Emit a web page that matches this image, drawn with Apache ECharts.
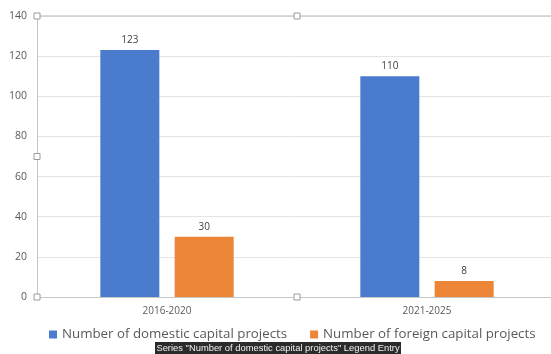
<!DOCTYPE html>
<html>
<head>
<meta charset="utf-8">
<script src="https://cdn.jsdelivr.net/npm/echarts@6/dist/echarts.min.js"></script>
<style>
  html, body { margin: 0; padding: 0; background: #fff; }
  #chart { width: 551px; height: 354px; }
</style>
</head>
<body>
<div id="chart"></div>
<script>
// Project counts by five-year plan period
const categories = ['2016-2020', '2021-2025'];
const domesticProjects = [123, 110];
const foreignProjects = [30, 8];
const seriesNames = ['Number of domestic capital projects', 'Number of foreign capital projects'];
const hoverNote = 'Series "Number of domestic capital projects" Legend Entry';

const GRID = { left: 37, top: 16, width: 520, bottom: 57, outerBoundsMode: 'none' };
const W = 551, H = 354;

const chart = echarts.init(document.getElementById('chart'), null, { renderer: 'canvas' });

// selection handles around the plot area
function handle(x, y) {
  return {
    type: 'rect', shape: { x: x - 3, y: y - 3, width: 6, height: 6 },
    style: { fill: '#fff', stroke: '#9a9a9a', lineWidth: 1 }, z: 10
  };
}
const plotBottom = H - GRID.bottom;
const midX = 297;
const midY = (GRID.top + plotBottom) / 2;

chart.setOption({
  animation: false,
  textStyle: { fontFamily: 'Open Sans, Liberation Sans, sans-serif' },
  grid: GRID,
  legend: {
    bottom: 8,
    left: 44,
    itemWidth: 8, itemHeight: 8, itemGap: 23,
    icon: 'rect',
    textStyle: { color: '#595959', fontSize: 13.3 },
    data: seriesNames
  },
  xAxis: {
    type: 'category',
    data: categories,
    axisTick: { show: false },
    axisLine: { lineStyle: { color: '#c6c6c6', width: 1 } },
    axisLabel: { color: '#595959', fontSize: 10, margin: 9 }
  },
  yAxis: {
    type: 'value',
    min: 0, max: 140, interval: 20,
    axisLine: { show: true, lineStyle: { color: '#c6c6c6' } },
    axisLabel: { color: '#595959', fontSize: 10.5, margin: 10 },
    splitLine: { lineStyle: { color: '#e4e4e4' } }
  },
  series: [
    {
      name: seriesNames[0], type: 'bar', data: domesticProjects,
      barWidth: 59, barGap: '26%',
      itemStyle: { color: '#4a7bcc' },
      label: { show: true, position: 'top', distance: 5, color: '#404040', fontSize: 10 }
    },
    {
      name: seriesNames[1], type: 'bar', data: foreignProjects,
      barWidth: 59,
      itemStyle: { color: '#ed8537' },
      label: { show: true, position: 'top', distance: 5, color: '#404040', fontSize: 10 }
    }
  ],
  graphic: [
    { type: 'line', shape: { x1: GRID.left, y1: GRID.top, x2: W, y2: GRID.top },
      style: { stroke: '#cfcfcf', lineWidth: 1.5 }, z: 5 },
    handle(GRID.left, GRID.top), handle(midX, GRID.top),
    handle(GRID.left, midY), handle(GRID.left, plotBottom), handle(midX, plotBottom),
    {
      type: 'group', left: 155, top: 342, z: 20,
      children: [
        { type: 'rect', shape: { x: 0, y: 0, width: 246, height: 13 }, style: { fill: '#2b2b2b' } },
        { type: 'text', x: 123, y: 6.5, style: { text: hoverNote, fill: '#f2f2f2', fontSize: 9.4,
          align: 'center', verticalAlign: 'middle', fontFamily: 'Liberation Sans, sans-serif' } }
      ]
    }
  ]
});
</script>
</body>
</html>
